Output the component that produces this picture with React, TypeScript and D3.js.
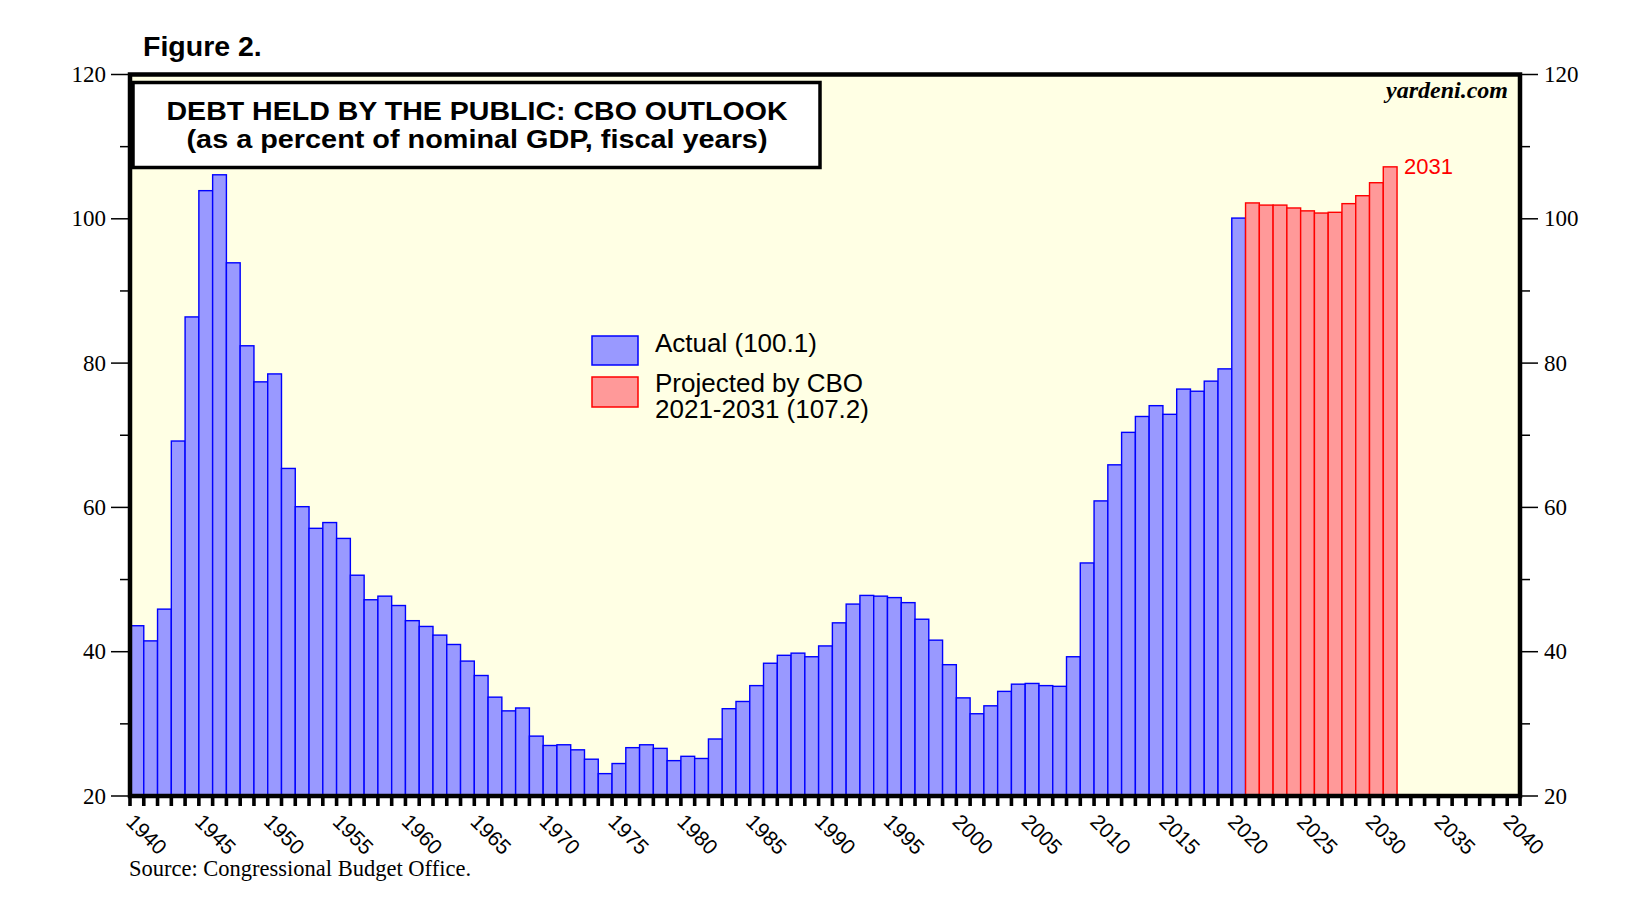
import { useEffect, useRef } from 'react';
import * as d3 from 'd3';

// Debt held by the public, % of GDP, fiscal years
const actualYears = d3.range(1940, 2021);
const actualValues = [
  43.6, 41.5, 45.9, 69.2, 86.4, 103.9, 106.1, 93.9, 82.4, 77.4,
  78.5, 65.4, 60.1, 57.1, 57.9, 55.7, 50.6, 47.2, 47.7, 46.4,
  44.3, 43.5, 42.3, 41.0, 38.7, 36.7, 33.7, 31.8, 32.2, 28.3,
  27.0, 27.1, 26.4, 25.1, 23.1, 24.5, 26.7, 27.1, 26.6, 24.9,
  25.5, 25.2, 27.9, 32.1, 33.1, 35.3, 38.4, 39.5, 39.8, 39.3,
  40.8, 44.0, 46.6, 47.8, 47.7, 47.5, 46.8, 44.5, 41.6, 38.2,
  33.6, 31.4, 32.5, 34.5, 35.5, 35.6, 35.3, 35.2, 39.3, 52.3,
  60.9, 65.9, 70.4, 72.6, 74.1, 72.9, 76.4, 76.1, 77.5, 79.2,
  100.1,
];
const projectedYears = d3.range(2021, 2032);
const projectedValues = [102.2, 101.9, 101.9, 101.5, 101.1, 100.8, 100.9, 102.1, 103.2, 105.0, 107.2];

const axisYears = d3.range(1940, 2041);
const yTicks = [20, 40, 60, 80, 100, 120];
const yMinorTicks = [30, 50, 70, 90, 110];

const W = 1643;
const H = 924;
const SANS = '"Liberation Sans", Arial, sans-serif';
const SERIF = '"Liberation Serif", "Times New Roman", serif';

export default function App() {
  const svgRef = useRef<SVGSVGElement>(null);

  useEffect(() => {
    if (!svgRef.current) return;
    const svg = d3.select(svgRef.current);
    svg.selectAll('*').remove();

    const left = 130, right = 1520, top = 74.5, bottom = 796;

    const x = d3.scaleBand<number>()
      .domain(axisYears)
      .range([left, right + 1])
      .padding(0);

    const y = d3.scaleLinear().domain([20, 120]).range([bottom, top]);

    // plot background
    svg.append('rect')
      .attr('x', left).attr('y', top)
      .attr('width', right - left).attr('height', bottom - top)
      .attr('fill', '#ffffe4');

    // bars
    const drawBars = (years: number[], values: number[], fill: string, stroke: string) => {
      svg.append('g')
        .selectAll('rect')
        .data(values)
        .enter().append('rect')
        .attr('x', (_, i) => x(years[i])!)
        .attr('y', d => y(d))
        .attr('width', x.bandwidth())
        .attr('height', d => bottom - y(d))
        .attr('fill', fill)
        .attr('stroke', stroke)
        .attr('stroke-width', 1.4);
    };
    drawBars(actualYears, actualValues, '#9999ff', '#0000ff');
    drawBars(projectedYears, projectedValues, '#ff9999', '#ff0000');

    // 2031 label
    const lastYear = projectedYears[projectedYears.length - 1];
    svg.append('text')
      .attr('x', x(lastYear)! + x.bandwidth() + 7)
      .attr('y', y(projectedValues[projectedValues.length - 1]) + 7)
      .attr('font-family', SANS).attr('font-size', 22)
      .attr('fill', '#ff0000')
      .text(String(lastYear));

    // frame
    svg.append('rect')
      .attr('x', left).attr('y', top)
      .attr('width', right - left).attr('height', bottom - top)
      .attr('fill', 'none').attr('stroke', '#000').attr('stroke-width', 4.5);

    // y axes, both sides
    const yAxisG = svg.append('g').attr('font-family', SERIF).attr('font-size', 23);
    yTicks.forEach(v => {
      yAxisG.append('line').attr('x1', left - 19).attr('x2', left)
        .attr('y1', y(v)).attr('y2', y(v)).attr('stroke', '#000').attr('stroke-width', 1.5);
      yAxisG.append('line').attr('x1', right).attr('x2', right + 18)
        .attr('y1', y(v)).attr('y2', y(v)).attr('stroke', '#000').attr('stroke-width', 1.5);
      yAxisG.append('text').attr('x', 106).attr('y', y(v)).attr('dy', '0.33em')
        .attr('text-anchor', 'end').text(v);
      yAxisG.append('text').attr('x', 1544).attr('y', y(v)).attr('dy', '0.33em')
        .text(v);
    });
    yMinorTicks.forEach(v => {
      yAxisG.append('line').attr('x1', left - 10).attr('x2', left)
        .attr('y1', y(v)).attr('y2', y(v)).attr('stroke', '#000').attr('stroke-width', 1.5);
      yAxisG.append('line').attr('x1', right).attr('x2', right + 10)
        .attr('y1', y(v)).attr('y2', y(v)).attr('stroke', '#000').attr('stroke-width', 1.5);
    });

    // x axis ticks (every year) and labels (every 5)
    const xg = svg.append('g');
    axisYears.forEach(yr => {
      xg.append('rect')
        .attr('x', x(yr)! - 1.8).attr('y', bottom + 2)
        .attr('width', 3.6).attr('height', 8)
        .attr('fill', '#000');
    });
    xg.append('rect')
      .attr('x', right - 1.8).attr('y', bottom + 2)
      .attr('width', 3.6).attr('height', 8)
      .attr('fill', '#000');
    axisYears.filter(yr => yr % 5 === 0).forEach(yr => {
      xg.append('text')
        .attr('transform', `translate(${x(yr)! - 5},${bottom + 27}) rotate(45)`)
        .attr('font-family', SANS).attr('font-size', 21)
        .text(yr);
    });

    // title box
    svg.append('rect')
      .attr('x', 133).attr('y', 82.5)
      .attr('width', 687).attr('height', 85)
      .attr('fill', '#fff').attr('stroke', '#000').attr('stroke-width', 3.5);
    svg.append('text')
      .attr('x', 477).attr('y', 119.5).attr('text-anchor', 'middle')
      .attr('font-family', SANS).attr('font-weight', 'bold').attr('font-size', 26)
      .attr('textLength', 621).attr('lengthAdjust', 'spacingAndGlyphs')
      .text('DEBT HELD BY THE PUBLIC: CBO OUTLOOK');
    svg.append('text')
      .attr('x', 477).attr('y', 147.5).attr('text-anchor', 'middle')
      .attr('font-family', SANS).attr('font-weight', 'bold').attr('font-size', 26)
      .attr('textLength', 581).attr('lengthAdjust', 'spacingAndGlyphs')
      .text('(as a percent of nominal GDP, fiscal years)');

    // watermark
    svg.append('text')
      .attr('x', 1508).attr('y', 98).attr('text-anchor', 'end')
      .attr('font-family', SERIF).attr('font-style', 'italic').attr('font-weight', 'bold')
      .attr('font-size', 24)
      .text('yardeni.com');

    // legend
    const lg = svg.append('g').attr('font-family', SANS).attr('font-size', 26);
    lg.append('rect').attr('x', 592).attr('y', 336).attr('width', 46).attr('height', 29)
      .attr('fill', '#9999ff').attr('stroke', '#0000ff').attr('stroke-width', 1.5);
    lg.append('rect').attr('x', 592).attr('y', 377).attr('width', 46).attr('height', 30)
      .attr('fill', '#ff9999').attr('stroke', '#ff0000').attr('stroke-width', 1.5);
    lg.append('text').attr('x', 655).attr('y', 352).text('Actual (100.1)');
    lg.append('text').attr('x', 655).attr('y', 392).text('Projected by CBO');
    lg.append('text').attr('x', 655).attr('y', 418).text('2021-2031 (107.2)');

    // figure label and source
    svg.append('text')
      .attr('x', 143).attr('y', 56)
      .attr('font-family', SANS).attr('font-weight', 'bold').attr('font-size', 28.5)
      .text('Figure 2.');
    svg.append('text')
      .attr('x', 129).attr('y', 876)
      .attr('font-family', SERIF).attr('font-size', 22.5)
      .text('Source: Congressional Budget Office.');
  }, []);

  return (
    <svg
      ref={svgRef}
      width={W}
      height={H}
      style={{ position: 'absolute', left: 0, top: 0, background: '#fff', display: 'block' }}
    />
  );
}
